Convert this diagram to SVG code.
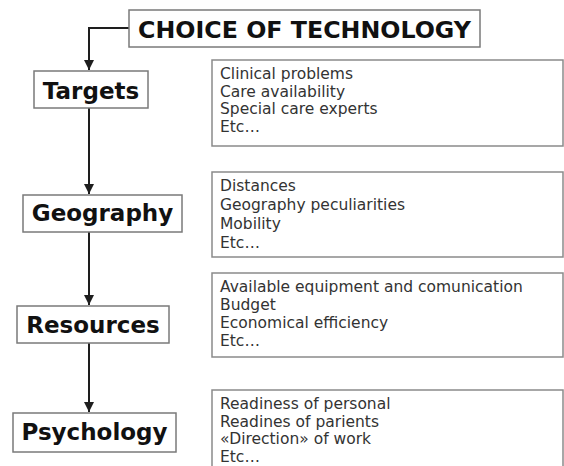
<svg xmlns="http://www.w3.org/2000/svg" width="564" height="466" viewBox="0 0 564 466">
<style>
.bg{fill:#ffffff}
.lbl{fill:#ffffff;stroke:#7a7a7a;stroke-width:1.5}
.det{fill:#ffffff;stroke:#8a8a8a;stroke-width:1.5}
.ht{font-family:"DejaVu Sans",Verdana,sans-serif;font-weight:bold;font-size:23px;fill:#111;text-anchor:middle}
.dt{font-family:"DejaVu Sans",Verdana,sans-serif;font-size:15.5px;fill:#333}
.con{fill:none;stroke:#1e1e1e;stroke-width:2}
</style>
<defs>
<marker id="arr" viewBox="0 0 10 10" refX="10" refY="5" markerWidth="5" markerHeight="5" markerUnits="strokeWidth" orient="auto">
<path d="M0,0 L10,5 L0,10 z" fill="#1e1e1e"/>
</marker>
</defs>
<rect class="bg" x="0" y="0" width="564" height="466"/>
<g id="connectors">
<path class="con" d="M129,28 H89 V70" marker-end="url(#arr)"/>
<path class="con" d="M89,108 V194" marker-end="url(#arr)"/>
<path class="con" d="M89,232 V305" marker-end="url(#arr)"/>
<path class="con" d="M89,343 V412" marker-end="url(#arr)"/>
</g>
<g id="title">
<rect class="lbl" x="129" y="10" width="351" height="37"/>
<text class="ht" x="304.5" y="37.5" textLength="333" lengthAdjust="spacingAndGlyphs">CHOICE OF TECHNOLOGY</text>
</g>
<g id="targets">
<rect class="lbl" x="34" y="71" width="114" height="37"/>
<text class="ht" x="91" y="98.5">Targets</text>
</g>
<g id="geography">
<rect class="lbl" x="23" y="195" width="159" height="37"/>
<text class="ht" x="102.5" y="221">Geography</text>
</g>
<g id="resources">
<rect class="lbl" x="17" y="306" width="152" height="37"/>
<text class="ht" x="93" y="333">Resources</text>
</g>
<g id="psychology">
<rect class="lbl" x="13" y="413" width="163" height="39"/>
<text class="ht" x="94.5" y="440">Psychology</text>
</g>
<g id="targets-details">
<rect class="det" x="212" y="60" width="351" height="86"/>
<text class="dt" x="220" y="79">Clinical problems</text>
<text class="dt" x="220" y="96.5">Care availability</text>
<text class="dt" x="220" y="114">Special care experts</text>
<text class="dt" x="220" y="131.5">Etc…</text>
</g>
<g id="geography-details">
<rect class="det" x="212" y="172" width="351" height="85"/>
<text class="dt" x="220" y="191">Distances</text>
<text class="dt" x="220" y="210">Geography peculiarities</text>
<text class="dt" x="220" y="229">Mobility</text>
<text class="dt" x="220" y="248">Etc…</text>
</g>
<g id="resources-details">
<rect class="det" x="212" y="273" width="351" height="84"/>
<text class="dt" x="220" y="292">Available equipment and comunication</text>
<text class="dt" x="220" y="310">Budget</text>
<text class="dt" x="220" y="328">Economical efficiency</text>
<text class="dt" x="220" y="346">Etc…</text>
</g>
<g id="psychology-details">
<rect class="det" x="212" y="390" width="351" height="90"/>
<text class="dt" x="220" y="409">Readiness of personal</text>
<text class="dt" x="220" y="426.5">Readines of parients</text>
<text class="dt" x="220" y="444">«Direction» of work</text>
<text class="dt" x="220" y="461.5">Etc…</text>
</g>
</svg>
